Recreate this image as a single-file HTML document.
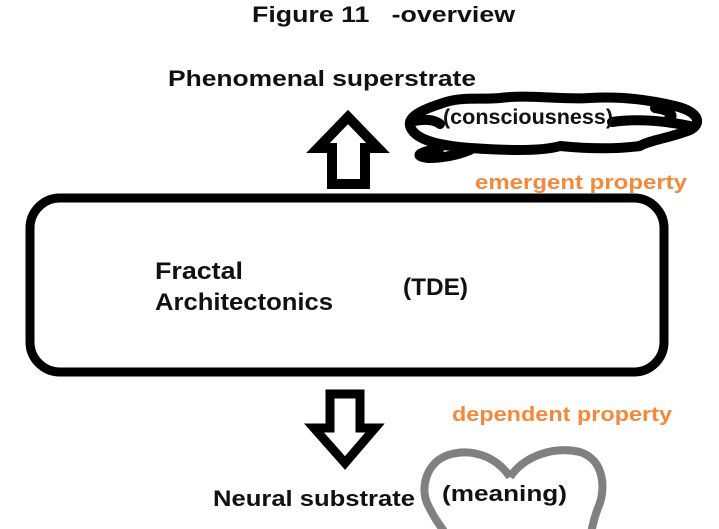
<!DOCTYPE html>
<html><head><meta charset="utf-8"><style>
html,body{margin:0;padding:0;background:#fff;width:719px;height:529px;overflow:hidden;}
svg{display:block;}
text{font-family:"Liberation Sans",sans-serif;font-weight:bold;}
</style></head><body>
<svg width="719" height="529" viewBox="0 0 719 529" xmlns="http://www.w3.org/2000/svg" style="overflow:hidden">
<rect width="719" height="529" fill="#fff"/>
<text x="252" y="22" font-size="22" fill="#111" textLength="263" lengthAdjust="spacingAndGlyphs">Figure 11&#160;&#160;&#160;-overview</text>
<text x="168" y="86" font-size="22" fill="#111" textLength="308" lengthAdjust="spacingAndGlyphs">Phenomenal superstrate</text>
<!-- cloud -->
<g fill="none" stroke="#000" stroke-width="10" stroke-linecap="round" stroke-linejoin="round">
<path d="M440 104 C460 96 480 100 500 98 C530 94 560 100 590 98 C620 96 650 100 675 106 C700 112 702 124 690 130 C670 138 650 140 640 146 C610 150 580 148 560 146 C540 152 500 150 470 148 C445 146 420 142 412 130 C405 120 415 112 440 104 Z"/>
<path d="M410 122 C425 118 435 120 440 124"/>
<path d="M612 122 C640 118 670 122 690 126"/>
<path d="M440 148 C420 152 412 156 428 158 C445 158 460 154 470 150"/>
<path d="M655 108 C670 110 676 116 668 120"/>
</g>
<text x="443" y="124" font-size="21" fill="#111" textLength="170" lengthAdjust="spacingAndGlyphs">(consciousness)</text>
<!-- up arrow -->
<polygon points="348,117 378,148 365,148 365,184 332,184 332,148 318,148" fill="#fff" stroke="#000" stroke-width="10" stroke-linejoin="miter"/>
<text x="475" y="189" font-size="20" fill="#f5883a" textLength="212" lengthAdjust="spacingAndGlyphs">emergent property</text>
<!-- box -->
<rect x="30" y="198" width="634" height="174" rx="30" fill="#fff" stroke="#000" stroke-width="9"/>
<text x="155" y="279" font-size="24" fill="#111" textLength="88" lengthAdjust="spacingAndGlyphs">Fractal</text>
<text x="155" y="310" font-size="24" fill="#111" textLength="178" lengthAdjust="spacingAndGlyphs">Architectonics</text>
<text x="403" y="295" font-size="24" fill="#111" textLength="65" lengthAdjust="spacingAndGlyphs">(TDE)</text>
<!-- down arrow -->
<polygon points="330,394 360,394 360,428 375,428 345,463 314,428 330,428" fill="#fff" stroke="#000" stroke-width="9" stroke-linejoin="miter"/>
<text x="452" y="421" font-size="20" fill="#f5883a" textLength="220" lengthAdjust="spacingAndGlyphs">dependent property</text>
<!-- heart -->
<path d="M510 477 C495 455 470 448 448 455 C425 463 420 490 428 505 C435 520 442 528 450 540 M510 477 C525 455 555 446 580 452 C605 460 606 490 598 508 C594 518 592 526 590 540" fill="none" stroke="#808080" stroke-width="8" stroke-linejoin="round"/>
<text x="213" y="506" font-size="22" fill="#111" textLength="202" lengthAdjust="spacingAndGlyphs">Neural substrate</text>
<text x="442" y="501" font-size="22" fill="#111" textLength="125" lengthAdjust="spacingAndGlyphs">(meaning)</text>
</svg>
</body></html>
